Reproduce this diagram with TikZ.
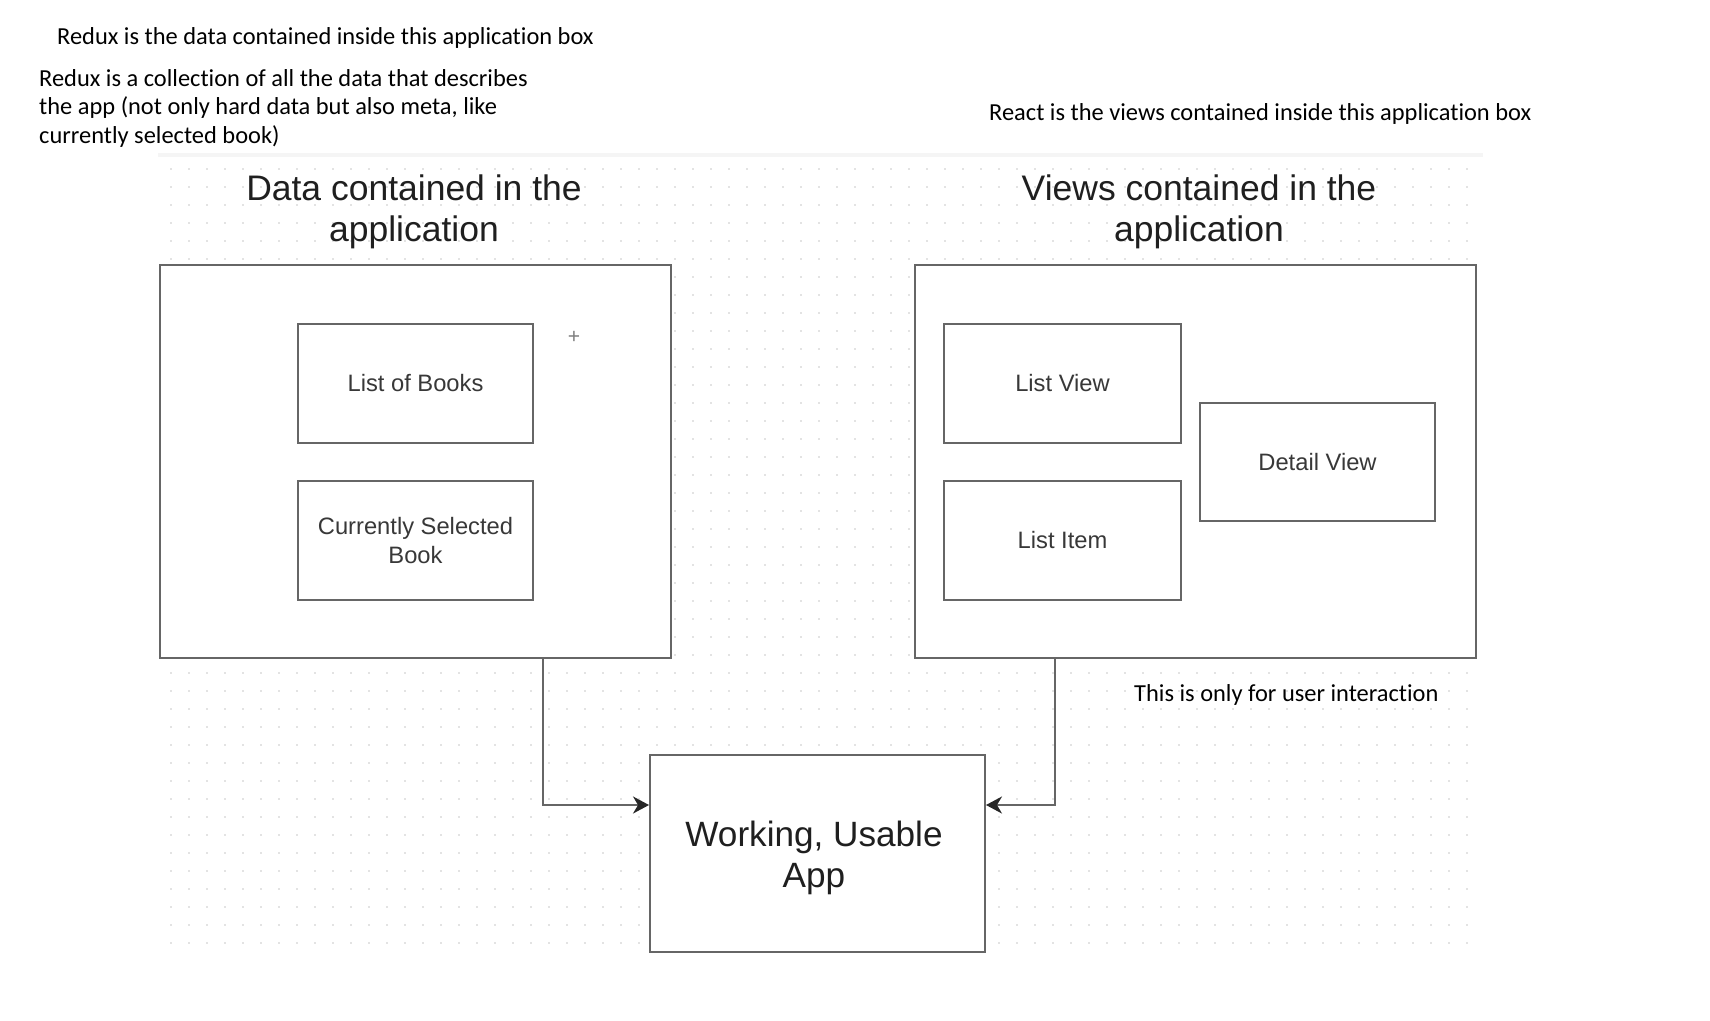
\documentclass[tikz,border=0pt]{standalone}
\usepackage{fontspec}
\setmainfont{Liberation Sans}
\newfontfamily\notefont[Ligatures=NoCommon]{Carlito}
\usetikzlibrary{arrows.meta}
\tikzset{
  box/.style={draw=black!60,line width=1.1pt,fill=white,text=black!78,font=\fontsize{13.5}{16}\selectfont,align=center},
  title/.style={align=center,text=black!88,font=\fontsize{20.2}{23.5}\selectfont},
  note/.style={anchor=west,align=left,font=\notefont\fontsize{13.9}{16.4}\selectfont},
  link/.style={draw=black!60,line width=1.1pt,-{Stealth[length=3.2mm,width=3.4mm,inset=1mm,color=black!85]}}
}
\begin{document}
\begin{tikzpicture}[x=0.2mm,y=-0.2mm]
\useasboundingbox(0,0)rectangle(1710,1020);
\fill[black!4](158,153)rectangle(1483,958);
\fill[white](158,157)rectangle(1483,958);
\foreach \x in {170,188,...,1480}
  \foreach \y in {168,186,...,955}
    \fill[black!11](\x,\y)rectangle++(1.6,1.6);
\node[note](redux)at(51,38){Redux is the data contained inside this application box};
\node[note,anchor=north west](reduxall)at(33,63){Redux is a collection of all the data that describes\\the app (not only hard data but also meta, like\\currently selected book)};
\node[note](react)at(983,114){React is the views contained inside this application box};
\node[title](datatitle)at(414,212){Data contained in the\\application};
\node[title](viewtitle)at(1199,212){Views contained in the\\application};
\node[box,minimum width=102.2mm,minimum height=78.6mm](data)at(415.5,461.5){};
\node[box,minimum width=47mm,minimum height=23.8mm](books)at(415.5,383.5){List of Books};
\node[box,minimum width=47mm,minimum height=23.8mm](selected)at(415.5,540.5){Currently Selected\\Book};
\node[text=black!50,font=\large](plus)at(574,337){+};
\node[box,minimum width=112.2mm,minimum height=78.6mm](views)at(1195.5,461.5){};
\node[box,minimum width=47.4mm,minimum height=23.8mm](listview)at(1062.5,383.5){List View};
\node[box,minimum width=47.4mm,minimum height=23.8mm](listitem)at(1062.5,540.5){List Item};
\node[box,minimum width=47mm,minimum height=23.6mm](detail)at(1317.5,462){Detail View};
\node[box,minimum width=67mm,minimum height=39.4mm](app)at(817.5,853.5){};
\node[title,font=\fontsize{20}{23}\selectfont](applabel)at(814,858){Working, Usable\\App};
\node[note](user)at(1128,695){This is only for user interaction};
\coordinate(lx)at(543,805);
\coordinate(rx)at(1055,805);
\draw[link](data.south -| lx)|-(app.west |- lx);
\draw[link](views.south -| rx)|-(app.east |- rx);
\end{tikzpicture}
\end{document}
